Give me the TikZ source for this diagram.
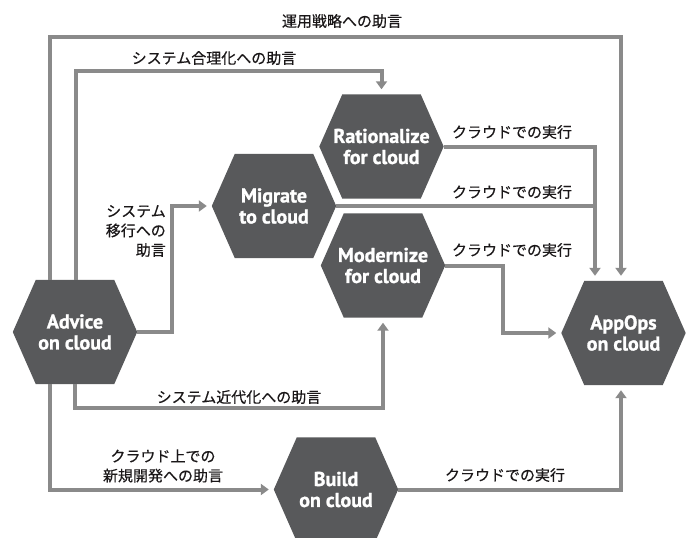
\documentclass[tikz,border=0pt]{standalone}
\usepackage{fontspec}
\setmainfont{PT Sans}[BoldFeatures={FakeBold=1.2}]
\newfontfamily\jpfont{Noto Sans CJK JP}[FakeBold=0.4]
\usetikzlibrary{arrows.meta,backgrounds}
\definecolor{hexgray}{HTML}{58595B}
\definecolor{linegray}{HTML}{8A8A8A}
\definecolor{labelink}{HTML}{1A1718}
\begin{document}
\begin{tikzpicture}[x=1pt,y=-1pt,
  hexnode/.style={minimum width=124pt, minimum height=104pt, inner sep=0pt, text=white,
    font=\bfseries\fontsize{20}{21}\selectfont, align=center},
  conn/.style={draw=linegray, line width=4pt},
  arr/.style={conn, -{Triangle[length=8pt,width=11pt]}, shorten >=5pt},
  lab/.style={text=labelink, font=\jpfont\fontsize{15}{19.5}\selectfont, inner sep=0pt, align=center}]
\useasboundingbox (0,0) rectangle (688,538);

% hexagon nodes
\node[hexnode] (adv) at (75,332)    {Advice\\on cloud};
\node[hexnode] (mig) at (274,206) {Migrate\\to cloud};
\node[hexnode] (rat) at (381.5,146.5) {Rationalize\\for cloud};
\node[hexnode] (mod) at (383,265.5)   {Modernize\\for cloud};
\node[hexnode] (app) at (623.5,333) {AppOps\\on cloud};
\node[hexnode] (bld) at (336,489.5)   {Build\\on cloud};

\begin{scope}[on background layer]
\foreach \n in {adv,mig,rat,mod,app,bld}
  \fill[hexgray] (\n.west) -- ([xshift=23pt]\n.north west) -- ([xshift=-23pt]\n.north east)
    -- (\n.east) -- ([xshift=-23pt]\n.south east) -- ([xshift=23pt]\n.south west) -- cycle;
\end{scope}

% corner coordinates
\coordinate (o1) at (50,37);
\coordinate (o2) at (621,37);
\coordinate (r1) at (76,71);
\coordinate (m1) at (172,332);
\coordinate (d1) at (75,408);
\coordinate (b1) at (50,489.5);
\coordinate (j1) at (595,146.5);
\coordinate (k1) at (503,265.5);
\coordinate (q1) at (621,489.5);

% connectors
\draw[arr] (adv.north -| o1) -- (o1) -- (o2) -- (app.north -| o2);
\draw[arr] (adv.north -| r1) -- (r1) -| (rat.north);
\draw[arr] (adv.east) -- (m1) |- (mig.west);
\draw[arr] (adv.south -| d1) -- (d1) -| (mod.south);
\draw[arr] (adv.south -| b1) -- (b1) -- (bld.west);
\draw[arr] (rat.east) -- (j1) -- (app.north -| j1);
\draw[conn] (mig.east) -- ([xshift=2pt]mig.east -| j1);
\draw[arr] (mod.east) -- (k1) |- (app.west);
\draw[arr] (bld.east) -- (q1) -- (app.south -| q1);

% labels
\node[lab] (l1) at (342,21) {運用戦略への助言};
\node[lab] (l2) at (214,58) {システム合理化への助言};
\node[lab, anchor=east, align=right] (l3) at (166,231) {システム\\移行への\\助言};
\node[lab] (l4) at (512,132) {クラウドでの実行};
\node[lab] (l5) at (512,192) {クラウドでの実行};
\node[lab] (l6) at (512,250) {クラウドでの実行};
\node[lab] (l7) at (239,397) {システム近代化への助言};
\node[lab] (l8) at (163,466) {クラウド上での\\新規開発への助言};
\node[lab] (l9) at (505,475) {クラウドでの実行};
\end{tikzpicture}
\end{document}
